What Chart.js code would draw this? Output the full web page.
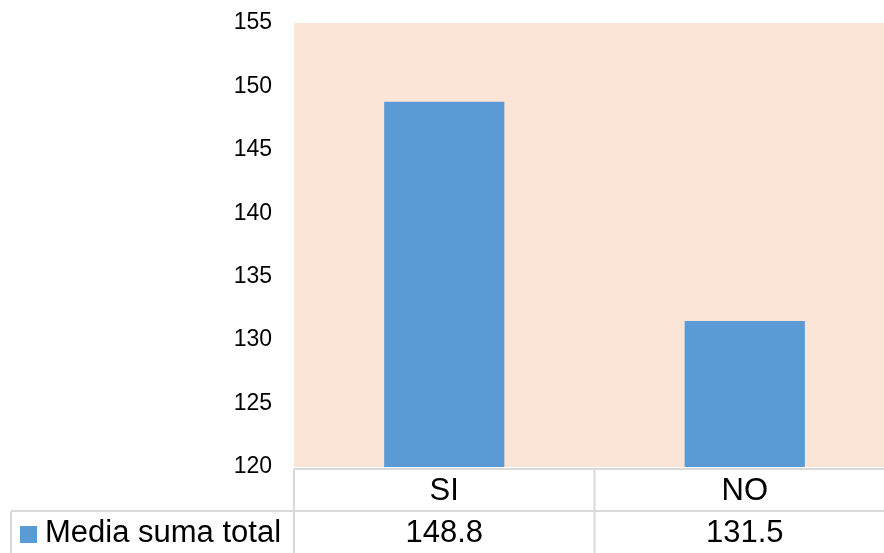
<!DOCTYPE html>
<html>
<head>
<meta charset="utf-8">
<script src="https://cdn.jsdelivr.net/npm/chart.js@4"></script>
<style>
  html, body { margin: 0; padding: 0; background: #fff; overflow: hidden; }
  #wrap { width: 895px; height: 553px; }
</style>
</head>
<body>
<div id="wrap"><canvas id="c" width="895" height="553"></canvas></div>
<script>
// Categories and the single series shown in the bar chart and its data table
const categories = ['SI', 'NO'];
const seriesName = 'Media suma total';
const seriesValues = [148.8, 131.5];
const yTicks = [120, 125, 130, 135, 140, 145, 150, 155];

const FONT = '"Liberation Sans", Arial, sans-serif';
const BAR_COLOR = '#5B9BD5';
const PLOT_BG = '#FBE5D6';
const GRID_COLOR = '#D9D9D9';

// Peach fill behind the plotting area
const plotBackground = {
  id: 'plotBackground',
  beforeDraw(chart) {
    const { ctx, chartArea: a } = chart;
    ctx.save();
    ctx.fillStyle = PLOT_BG;
    ctx.fillRect(a.left, a.top, a.right - a.left, a.bottom - a.top);
    ctx.restore();
  }
};

// Data table under the x axis: category row, then series row with legend key
const dataTable = {
  id: 'dataTable',
  afterDraw(chart) {
    const { ctx, chartArea: a } = chart;
    const x = chart.scales.x;
    const n = categories.length;
    const colW = (a.right - a.left) / n;
    const top = a.bottom + 2;
    const mid = top + 42;
    const bottom = chart.height + 2;
    const keyLeft = 11;

    ctx.save();
    ctx.strokeStyle = GRID_COLOR;
    ctx.lineWidth = 2;
    ctx.beginPath();
    ctx.moveTo(a.left, top); ctx.lineTo(a.right, top);
    ctx.moveTo(keyLeft, mid); ctx.lineTo(a.right, mid);
    ctx.moveTo(keyLeft, mid); ctx.lineTo(keyLeft, bottom);
    for (let i = 0; i <= n; i++) {
      const bx = a.left + i * colW;
      ctx.moveTo(bx, top); ctx.lineTo(bx, bottom);
    }
    ctx.stroke();

    ctx.fillStyle = '#000';
    ctx.font = '31px ' + FONT;
    ctx.textAlign = 'center';
    ctx.textBaseline = 'middle';
    categories.forEach((c, i) => {
      const cx = x.getPixelForValue(i);
      ctx.fillText(c, cx, (top + mid) / 2 + 1);
      ctx.fillText(seriesValues[i].toFixed(1), cx, mid + 22);
    });

    // legend key
    ctx.fillStyle = BAR_COLOR;
    ctx.fillRect(20, 526, 17, 17);
    ctx.fillStyle = '#000';
    ctx.textAlign = 'left';
    ctx.fillText(seriesName, 45, mid + 22);
    ctx.restore();
  }
};

new Chart(document.getElementById('c'), {
  type: 'bar',
  data: {
    labels: categories,
    datasets: [{
      label: seriesName,
      data: seriesValues,
      backgroundColor: BAR_COLOR,
      borderWidth: 0,
      categoryPercentage: 1.0,
      barPercentage: 0.4
    }]
  },
  options: {
    responsive: false,
    animation: false,
    devicePixelRatio: 1,
    layout: { padding: { top: 23, bottom: 86, left: 0, right: 0 } },
    plugins: {
      legend: { display: false },
      tooltip: { enabled: false }
    },
    scales: {
      x: {
        grid: { display: false, drawTicks: false },
        border: { display: false },
        ticks: { display: false }
      },
      y: {
        min: 120,
        max: 155,
        afterBuildTicks(scale) {
          scale.ticks = yTicks.map(v => ({ value: v }));
        },
        afterFit(scale) {
          scale.width = 294;
          scale.paddingTop = 0;
          scale.paddingBottom = 0;
        },
        grid: { display: false, drawTicks: false },
        border: { display: false },
        ticks: {
          padding: 22,
          color: '#000',
          font: { family: FONT, size: 23 }
        }
      }
    }
  },
  plugins: [plotBackground, dataTable]
});
</script>
</body>
</html>
